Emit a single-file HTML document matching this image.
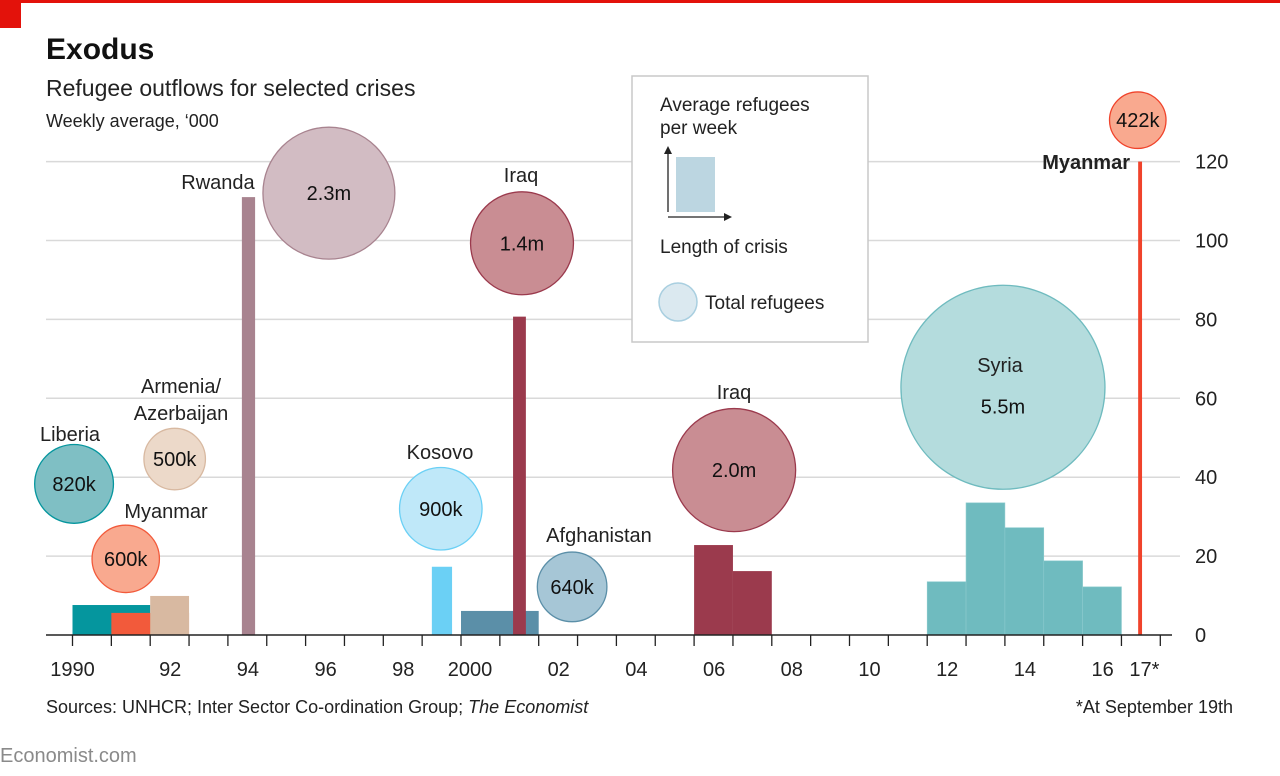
<!DOCTYPE html>
<html><head><meta charset="utf-8"><style>
body{margin:0;background:#fff;}
svg{display:block;font-family:"Liberation Sans",sans-serif;}
</style></head><body>
<svg id="chart" width="1280" height="776" viewBox="0 0 1280 776">
<rect x="0" y="0" width="1280" height="3" fill="#e3120b"/>
<rect x="0" y="0" width="21" height="28" fill="#e3120b"/>
<text x="46" y="59" font-size="30" font-weight="bold" fill="#111">Exodus</text>
<text x="46" y="96" font-size="23" fill="#222">Refugee outflows for selected crises</text>
<text x="46" y="127" font-size="18" fill="#222">Weekly average, ‘000</text>
<g id="grid"></g>
<g id="bubbles"></g>
<g id="bars"></g>
<g id="labels"></g>
<g id="axis"></g>
<g>
<rect x="632" y="76" width="236" height="266" fill="#fff" stroke="#c8c8c8" stroke-width="1.5"/>
<text x="660" y="111" font-size="19" fill="#222">Average refugees</text>
<text x="660" y="134" font-size="19" fill="#222">per week</text>
<rect x="676" y="157" width="39" height="55" fill="#bcd6e1"/>
<line x1="668" y1="212" x2="668" y2="150" stroke="#222" stroke-width="1.3"/>
<path d="M664,154 L668,146 L672,154Z" fill="#222"/>
<line x1="668" y1="217" x2="726" y2="217" stroke="#222" stroke-width="1.3"/>
<path d="M724,213 L732,217 L724,221Z" fill="#222"/>
<text x="660" y="253" font-size="19" fill="#222">Length of crisis</text>
<circle cx="678" cy="302" r="19" fill="#dbe9f0" stroke="#a9cfe0" stroke-width="1.5"/>
<text x="705" y="309" font-size="19" fill="#222">Total refugees</text>
</g>
<text x="46" y="713" font-size="18" fill="#222">Sources: UNHCR; Inter Sector Co-ordination Group; <tspan font-style="italic">The Economist</tspan></text>
<text x="1233" y="713" font-size="18" fill="#222" text-anchor="end">*At September 19th</text>
<text x="0" y="762" font-size="20" fill="#8a8a8a">Economist.com</text>
</svg>
<script>
// crisis data
const crisisNames = ["Liberia","Myanmar","Armenia/Azerbaijan","Rwanda","Kosovo","Afghanistan","Iraq","Iraq","Syria","Myanmar"];
const totalLabels = ["820k","600k","500k","2.3m","900k","640k","1.4m","2.0m","5.5m","422k"];
const totalMillions = [0.82,0.6,0.5,2.3,0.9,0.64,1.4,2.0,5.5,0.422];
const bubbleCenterYear = [1990.04,1991.37,1992.63,1996.6,1999.48,2002.86,2001.57,2007.03,2013.95,2017.42];
const bubbleCenterValue = [38.3,19.3,44.6,112,32,12.2,99.3,41.8,62.8,130.5];
// bars: [crisis index, start year, end year, weekly avg]
const barCrisis = [0,1,2,3,4,5,6,7,7,8,8,8,8,8,9];
const barStart = [1990,1991,1992,1994.36,1999.25,2000,2001.34,2006,2007,2012,2013,2014,2015,2016,2017.43];
const barEnd   = [1992,1993,1993,1994.7,1999.77,2002,2001.67,2007,2008,2013,2014,2015,2016,2017,2017.53];
const barValue = [7.6,5.6,9.9,111,17.3,6.1,80.7,22.8,16.2,13.5,33.5,27.2,18.8,12.2,120];
const yTicks = [0,20,40,60,80,100,120];
const xLabels = ["1990","92","94","96","98","2000","02","04","06","08","10","12","14","16","17*"];
const xLabelYears = [1990,1992,1994,1996,1998,2000,2002,2004,2006,2008,2010,2012,2014,2016,2017];
const barColors = ["#05969e","#f25a3b","#d8b9a1","#a8838f","#6bd0f5","#5b8fa8","#9b3a4d","#9b3a4d","#6fbbbf","#f0432b"];
const bubbleFill = ["#7fbfc4","#f9a98f","#ecd9c9","#d2bcc3","#bfe8f9","#a6c6d6","#c98d93","#c98d93","#b4dcdd","#f9a98f"];
const NS="http://www.w3.org/2000/svg";
const X = y => 72.5 + 38.85*(y-1990);
const Y = v => 635 - v*3.945;
const R = m => 43.5*Math.sqrt(m);
function mk(tag, attrs, parent){const e=document.createElementNS(NS,tag);for(const k in attrs)e.setAttribute(k,attrs[k]);parent.appendChild(e);return e;}
const grid=document.getElementById('grid'), axis=document.getElementById('axis');
yTicks.forEach(t=>{
  if(t>0){const l=mk('line',{x1:46,x2:1180,y1:Y(t),y2:Y(t),stroke:'#d9d9d9','stroke-width':1.5},grid);
  
  }
  const tx=mk('text',{x:1195,y:Y(t)+7,'font-size':20,fill:'#222'},axis);tx.textContent=t;
  
  
});
const al=mk('line',{x1:46,x2:1172,y1:635,y2:635,stroke:'#222','stroke-width':1.5},axis);


for(let y=1990;y<=2018;y++){const tk=mk('line',{x1:X(y),x2:X(y),y1:635,y2:646,stroke:'#222','stroke-width':1.3},axis);
  
  }
xLabels.forEach((s,i)=>{let off=20; if(s=="1990")off=0; if(s=="2000")off=9; if(s=="17*")off=23;
  const tx=mk('text',{x:X(xLabelYears[i])+off,y:676,'font-size':20,fill:'#222','text-anchor':'middle'},axis);tx.textContent=s;
  
  });
const bars=document.getElementById('bars');
barValue.forEach((v,i)=>{const c=barCrisis[i];const r=mk('rect',{x:X(barStart[i]),y:Y(v),width:X(barEnd[i])-X(barStart[i]),height:635-Y(v),fill:barColors[c],stroke:c==8?'#8ccbce':'none','stroke-width':0.6},bars);
  
  });
const bub=document.getElementById('bubbles');
totalMillions.forEach((m,i)=>{const cx=X(bubbleCenterYear[i]),cy=Y(bubbleCenterValue[i]);
  const c=mk('circle',{cx:cx,cy:cy,r:R(m),fill:bubbleFill[i],stroke:barColors[i],'stroke-width':1.3},bub);
  
  
  const t=mk('text',{x:cx,y:cy+(i==8?26:7),'font-size':20,fill:'#111','text-anchor':'middle'},bub);t.textContent=totalLabels[i];
  
  
});
const lab=document.getElementById('labels');
const nameLabels=[[0,70,441,'middle'],[1,166,518,'middle'],[2,181,393,'middle'],[3,218,189,'middle'],[4,440,459,'middle'],[5,599,542,'middle'],[6,521,182,'middle'],[7,734,399,'middle'],[8,1000,372,'middle'],[9,1130,169,'end']];
nameLabels.forEach(a=>{const t=mk('text',{x:a[1],y:a[2],'font-size':20,fill:'#222','text-anchor':a[3]},lab);
  if(a[0]==2){t.textContent='Armenia/';const t2=mk('text',{x:a[1],y:a[2]+27,'font-size':20,fill:'#222','text-anchor':'middle'},lab);t2.textContent='Azerbaijan';
    
    }
  else t.textContent=crisisNames[a[0]];
  if(a[0]==9)t.setAttribute('font-weight','bold');
  
  });
</script>
</body></html>
